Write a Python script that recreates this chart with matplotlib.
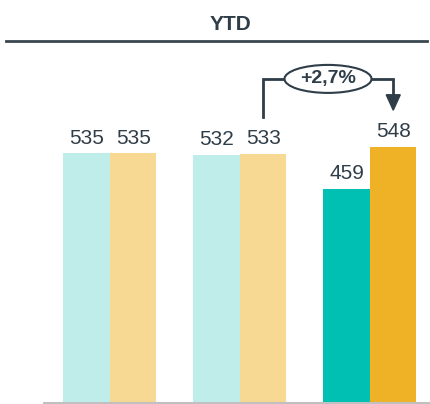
import numpy as np
import matplotlib.pyplot as plt
from matplotlib.patches import Ellipse, Polygon

plt.rcParams['font.family'] = ['Liberation Sans', 'DejaVu Sans']

# data
title = "YTD"
prior = [535, 532, 459]
current = [535, 533, 548]
prior_colors = ["#BFEEEA", "#BFEEEA", "#00BFB3"]
current_colors = ["#F7D994", "#F7D994", "#EFB227"]
change_label = "+2,7%"

dark = "#2F3D48"

fig = plt.figure(figsize=(4.31, 4.04), dpi=100)
# axes: baseline at y=403px, top at 40px; x from 44px to 431px
ax = fig.add_axes([44 / 431, 1 - 403 / 404, 387 / 431, (403 - 40) / 404])

x = np.arange(len(prior))
w = 46.5 / 130
ax.bar(x - w / 2, prior, width=w, color=prior_colors)
ax.bar(x + w / 2, current, width=w, color=current_colors)

for xi, v in zip(x - w / 2, prior):
    ax.text(xi, v + 12, str(v), ha="center", va="bottom", fontsize=15, color=dark)
for xi, v in zip(x + w / 2, current):
    ax.text(xi, v + 12, str(v), ha="center", va="bottom", fontsize=15, color=dark)

ax.set_xlim(-66 / 130, 321 / 130)
ax.set_ylim(0, 363 / 0.467)
for s in ["top", "right", "left"]:
    ax.spines[s].set_visible(False)
ax.spines["bottom"].set_color("#C0C0C0")
ax.spines["bottom"].set_linewidth(1.5)
ax.set_xticks([])
ax.set_yticks([])

# bracket from group 2 current to group 3 current
x0 = x[1] + w / 2
x1 = x[2] + w / 2
y_top = 694
y_left = current[1] + 79
y_tip = current[2] + 79
ax.plot([x0, x0, x1, x1], [y_left, y_top, y_top, y_tip + 30], color=dark, lw=2, clip_on=False,
        solid_joinstyle="miter")
hw = 7 / 130
ax.add_patch(Polygon([[x1 - hw, y_tip + 33], [x1 + hw, y_tip + 33], [x1, y_tip]],
                     closed=True, color=dark, clip_on=False))
xm = (328 - 110) / 130
ax.add_patch(Ellipse((xm, y_top), 87 / 130, 28 / 0.467, facecolor="white",
                     edgecolor=dark, lw=1.5, clip_on=False, zorder=3))
ax.text(xm, y_top, change_label, ha="center", va="center", fontsize=14,
        fontweight="bold", color=dark, zorder=4)

# title and rule
fig.text(230 / 431, 1 - 24 / 404, title, ha="center", va="center", fontsize=15,
         fontweight="bold", color=dark)
fig.add_artist(plt.Line2D([6 / 431, 427 / 431], [1 - 41 / 404, 1 - 41 / 404],
                          color="#3A4750", lw=2))

fig.savefig("out.png", dpi=100)
